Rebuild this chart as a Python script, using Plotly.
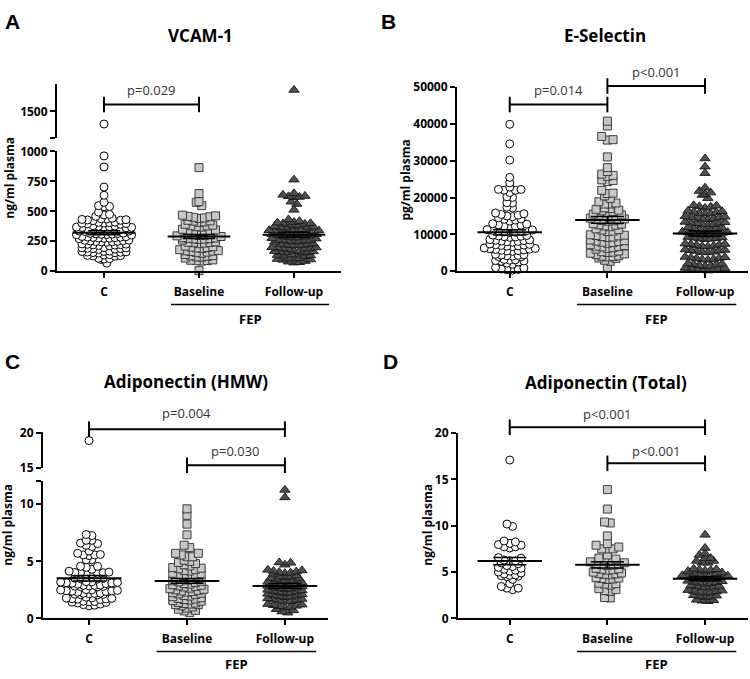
import numpy as np
import plotly.graph_objects as go

# ---------------- data ----------------
categories = ["C", "Baseline", "Follow-up"]

vcam_c = [1394, 962, 870, 702, 634, 575, 547, 540, 538, 493, 474, 470, 458,
          442, 436, 430, 428, 425, 432, 438, 422,
          410, 405, 398, 402, 395, 408, 400, 392,
          378, 372, 368, 365, 375, 370, 362, 380, 366,
          350, 345, 342, 338, 335, 340, 332, 348, 344, 336,
          318, 315, 312, 308, 305, 310, 302, 316, 306,
          290, 285, 282, 278, 275, 280, 272, 288, 276, 284,
          260, 255, 252, 248, 245, 250, 242, 258, 246,
          228, 225, 220, 218, 215, 222, 212, 226,
          198, 195, 190, 188, 185, 192, 182, 196,
          168, 165, 160, 158, 155, 162, 152, 166, 156,
          138, 132, 128, 125, 135, 130,
          108, 102, 98, 105, 68]
vcam_base = [864, 648, 580, 575, 547,
             468, 462, 455, 450, 445, 458, 440,
             425, 418, 412, 408, 420,
             392, 385, 378, 372, 380, 368,
             350, 345, 338, 332, 342, 330, 336,
             312, 305, 298, 300, 295, 308, 290,
             280, 275, 270, 265, 272, 268, 260, 278,
             245, 240, 235, 238, 230, 242,
             210, 205, 198, 195, 202, 190, 180,
             170, 165, 160, 168, 158, 172, 150, 140,
             130, 125, 120, 128, 118, 110,
             95, 90, 88, 92, 85, 5]
vcam_fu = [1679, 764, 650, 637, 628, 625, 620, 618, 580, 561, 512,
           432, 418,
           405, 395, 390, 400, 385, 398, 410,
           372, 368, 362, 375, 365, 378,
           345, 340, 336, 348, 332, 342, 350, 338,
           318, 312, 308, 315, 305, 320, 310, 302, 322,
           285, 280, 276, 288, 272, 282, 290,
           258, 252, 248, 255, 245, 260, 250, 262,
           228, 222, 218, 225, 215, 230, 220,
           198, 192, 188, 195, 185, 200, 190,
           168, 162, 158, 165, 155, 170, 160, 172,
           138, 132, 128, 135, 125, 140,
           108, 102, 98, 105, 95, 110,
           80, 75, 72, 85]

esel_c = [39870, 34570, 30160, 25480, 23990, 22830, 22220, 21960, 21350, 22200, 22000,
          20030, 20190, 18520, 18600, 17380, 17200,
          15420, 15800, 15200, 15600, 15000, 14800,
          14200, 13900, 14500, 13600, 14100,
          12800, 12500, 12200, 12600, 12000, 12900, 12300,
          11300, 11000, 10800, 11200, 10600, 10900, 11100, 10700, 10500,
          9800, 9500, 9300, 9600, 9200, 9700, 9400,
          8500, 8300, 8100, 8400, 8000, 8600, 8200, 7900,
          7300, 7100, 6900, 7200, 6800, 7000, 6700, 7400,
          6100, 5900, 5700, 6000, 5600, 5800, 5500, 6200, 5400, 6300,
          4500, 4300, 4100, 4400, 4000, 4600, 4200, 3900,
          3200, 3000, 2900, 3100, 2800,
          2700, 2200, 1900, 2500,
          900, 600, 400, 300, 500, 1000]
esel_base = [40740, 39420, 36590, 35710, 35600, 31030, 28120, 26370, 25750, 24600, 24300,
             24800, 26010, 27070, 21960, 21080, 21200, 20450, 18860, 18250, 18520, 18250, 19760,
             17000, 16600, 16200, 16800, 16400, 15900, 17200,
             15300, 15000, 14700, 15200, 14900, 15500,
             14200, 13900, 13700, 14100, 13600, 14400, 13800,
             12900, 12600, 12300, 12800, 12100, 12500,
             11500, 11200, 10900, 11300, 10800,
             9900, 9600, 9400, 9800, 9200, 9700, 9300,
             8500, 8200, 7900, 8300, 7800, 8100, 7600, 7200,
             7000, 6700, 6400, 6800, 6200, 6600, 6000,
             5500, 5200, 4900, 5300, 4700, 5100, 4500,
             4200, 3900, 3600, 4000, 3500, 4100,
             3000, 2700, 1060]
esel_fu = [30600, 28390, 26630, 20710, 21780, 20900, 21340, 22670, 19840,
           17800, 17500, 17200, 17600, 17900,
           16300, 16000, 15700, 16100, 15800, 16400, 15600,
           14800, 14500, 14200, 14600, 14100, 14700, 14300, 14900,
           13300, 13000, 12700, 13100, 12600, 13200, 12800, 13400,
           11800, 11600, 11300, 11700, 11200, 11900, 11400,
           10500, 10300, 10100, 10400, 10000, 10600, 10200, 10700, 9900,
           9200, 9000, 8800, 9100, 8700, 9300, 8900,
           7400, 7100, 6800, 7200, 6700, 7300, 6900, 7500,
           5800, 5500, 5200, 5600, 5100, 5700, 5300, 5900,
           3800, 3500, 3200, 3600, 3100, 3700, 3300, 3900,
           2100, 1800, 1500, 1900, 1400, 2000, 1600,
           700, 500, 300, 600, 200, 400, 800, 900]

hmw_c = [18.9, 7.26, 6.84, 6.55, 6.4, 6.6, 6.84, 7.35, 6.3,
         5.9, 5.56, 5.5, 5.56, 5.7, 5.13, 5.13, 5.6,
         4.56, 4.47, 4.56, 4.13, 4.3,
         4.0, 3.95, 3.9, 3.85, 4.05, 3.92, 3.88, 4.02, 3.97,
         3.6, 3.55, 3.5, 3.45, 3.58, 3.52, 3.62, 3.48,
         3.2, 3.15, 3.1, 3.05, 3.18, 3.12, 3.08, 3.22, 3.0,
         2.9, 2.85, 2.8, 2.75, 2.88, 2.82, 2.78, 2.92,
         2.5, 2.45, 2.4, 2.35, 2.48, 2.42, 2.38, 2.52, 2.3,
         2.2, 2.15, 2.1, 2.05, 2.18, 2.12, 2.08, 2.22,
         1.8, 1.75, 1.7, 1.65, 1.78, 1.72, 1.68, 1.85,
         1.5, 1.45, 1.4, 1.35, 1.48, 1.42,
         1.25, 1.2, 1.15, 1.1]
hmw_base = [9.6, 9.03, 8.26, 7.32, 6.41, 6.2, 5.56, 5.7, 5.7, 5.4, 5.4,
            5.0, 4.9, 4.7, 4.8, 4.6, 5.1,
            4.4, 4.3, 4.2, 4.35, 4.15, 4.45,
            3.9, 3.8, 3.7, 3.85, 3.75, 3.95, 3.65,
            3.4, 3.3, 3.2, 3.35, 3.25, 3.45, 3.15, 3.5,
            3.0, 2.9, 2.8, 2.95, 2.85, 3.05, 2.75,
            2.6, 2.5, 2.4, 2.55, 2.45, 2.65, 2.35, 2.3,
            2.2, 2.1, 2.0, 2.15, 1.95, 2.25, 1.9, 1.8,
            1.7, 1.6, 1.5, 1.65, 1.55, 1.75, 1.4,
            1.3, 1.2, 1.1, 1.25, 1.0, 1.35, 1.2, 0.9,
            0.8, 0.65, 0.5, 0.7]
hmw_fu = [11.26, 10.6, 4.9, 4.7, 4.87,
          4.2, 4.1, 4.0, 4.15, 3.95, 4.25, 4.05, 3.9,
          3.7, 3.6, 3.5, 3.65, 3.45, 3.75, 3.55,
          3.3, 3.2, 3.1, 3.25, 3.05, 3.35, 3.15, 3.0,
          2.9, 2.8, 2.7, 2.85, 2.65, 2.95, 2.75, 2.6,
          2.5, 2.4, 2.3, 2.45, 2.25, 2.55, 2.35,
          2.1, 2.0, 1.9, 2.05, 1.85, 2.15, 1.95, 2.2,
          1.7, 1.6, 1.5, 1.65, 1.45, 1.75, 1.55,
          1.2, 1.1, 1.0, 1.15, 0.95, 1.25, 1.05,
          0.8, 0.7, 0.6, 0.5]

tot_c = [17.09, 9.93, 10.18, 8.25, 7.96, 7.72, 7.6, 7.72, 7.9, 8.1, 8.35,
         6.49, 6.21, 6.21, 6.3, 6.56, 5.6, 5.9, 5.7, 6.0,
         5.5, 5.3, 5.1, 4.9, 4.7, 4.6, 4.5, 4.55, 4.65, 4.8, 5.0, 5.2, 5.4,
         4.2, 3.75, 3.26, 3.09, 3.26, 3.44]
tot_base = [13.9, 11.8, 10.3, 10.4, 8.9, 7.9, 7.5, 7.5, 7.5, 7.7, 8.07, 6.84,
            6.5, 6.3, 6.1, 6.2, 6.4,
            5.9, 5.8, 5.7, 5.85, 5.75, 6.0,
            5.4, 5.3, 5.2, 5.35, 5.25,
            4.9, 4.8, 4.7, 4.85, 4.75, 5.0,
            4.4, 4.3, 4.2, 4.35, 4.25,
            3.8, 3.7, 3.6, 3.75,
            3.2, 3.0, 2.9, 3.1,
            2.2, 2.25]
tot_fu = [9.02, 7.6, 6.84, 6.5, 6.2, 6.0, 6.0, 6.2, 6.5, 7.0,
          5.3, 5.2, 5.1, 5.25, 5.15, 5.35,
          4.9, 4.8, 4.7, 4.85, 4.75, 4.95, 4.65,
          4.5, 4.4, 4.3, 4.45, 4.35, 4.55, 4.25, 4.6,
          4.0, 3.9, 3.8, 3.95, 3.85, 4.05, 3.75,
          3.5, 3.4, 3.3, 3.45, 3.35, 3.55,
          3.0, 2.9, 2.8, 2.95, 2.85, 3.05, 2.75,
          2.5, 2.4, 2.3, 2.45, 2.35,
          2.0, 1.9, 1.85, 1.95]

titles = ["VCAM-1", "E-Selectin", "Adiponectin (HMW)", "Adiponectin (Total)"]
ytitles = ["ng/ml plasma", "pg/ml plasma", "ng/ml plasma", "ng/ml plasma"]

# ---------------- helpers ----------------
W, H = 750, 679


def PX(p):
    return p / W


def PY(p):
    return 1 - p / H


def swarm(vals, bin_size, step):
    vals = sorted(vals)
    rows, cur, start = [], [], None
    for v in vals:
        if start is None or v - start > bin_size:
            if cur:
                rows.append(cur)
            cur, start = [v], v
        else:
            cur.append(v)
    if cur:
        rows.append(cur)
    xs, ys = [], []
    for r in rows:
        k = len(r)
        for i, v in enumerate(r):
            if k % 2 == 1:
                if i == 0:
                    off = 0
                else:
                    j = (i + 1) // 2
                    off = j if i % 2 == 1 else -j
            else:
                j = i // 2
                off = (j + 0.5) if i % 2 == 0 else -(j + 0.5)
            xs.append(off * step)
            ys.append(v)
    return xs, ys


STYLES = [
    dict(symbol="circle", size=8, color="white", line=dict(color="black", width=1)),
    dict(symbol="square", size=8, color="#c8c8c8", line=dict(color="#3c3c3c", width=1)),
    dict(symbol="triangle-up", size=9, color="#505050", line=dict(color="#1e1e1e", width=1)),
]

fig = go.Figure()


def add_group(vals, ci, xa, ya_low, bin_size, step=0.058, split=None, ya_up=None):
    low = [v for v in vals if split is None or v <= split]
    up = [v for v in vals if split is not None and v > split]
    xs, ys = swarm(low, bin_size, step)
    fig.add_trace(go.Scatter(x=[ci + x for x in xs], y=ys, mode="markers",
                             marker=STYLES[ci], xaxis=xa, yaxis=ya_low,
                             cliponaxis=False, hoverinfo="y"))
    if up:
        xs2, ys2 = swarm(up, bin_size, step)
        fig.add_trace(go.Scatter(x=[ci + x for x in xs2], y=ys2, mode="markers",
                                 marker=STYLES[ci], xaxis=xa, yaxis=ya_up,
                                 cliponaxis=False, hoverinfo="y"))


def add_mean(vals, ci, xa, ya):
    m = float(np.mean(vals))
    s = float(np.std(vals, ddof=1) / np.sqrt(len(vals)))
    fig.add_trace(go.Scatter(x=[ci - 0.33, ci + 0.33], y=[m, m], mode="lines",
                             line=dict(color="black", width=2), xaxis=xa, yaxis=ya,
                             hoverinfo="skip", cliponaxis=False))
    fig.add_trace(go.Scatter(x=[ci - 0.17, ci + 0.17, None, ci, ci, None, ci - 0.17, ci + 0.17],
                             y=[m + s, m + s, None, m - s, m + s, None, m - s, m - s],
                             mode="lines", line=dict(color="black", width=1.5),
                             xaxis=xa, yaxis=ya, hoverinfo="skip", cliponaxis=False))


panels = [
    dict(data=[vcam_c, vcam_base, vcam_fu], xa="x", ya="y", yu="y2", split=1000, bin=30),
    dict(data=[esel_c, esel_base, esel_fu], xa="x2", ya="y3", yu=None, split=None, bin=1000),
    dict(data=[hmw_c, hmw_base, hmw_fu], xa="x3", ya="y4", yu="y5", split=12.05, bin=0.34),
    dict(data=[tot_c, tot_base, tot_fu], xa="x4", ya="y6", yu=None, split=None, bin=0.42),
]
for p in panels:
    for ci, vals in enumerate(p["data"]):
        add_group(vals, ci, p["xa"], p["ya"], p["bin"], split=p["split"], ya_up=p["yu"])
for p in panels:
    for ci, vals in enumerate(p["data"]):
        add_mean(vals, ci, p["xa"], p["ya"])

# ---------------- axes ----------------
tickfont = dict(family="Open Sans", size=12, color="black", weight="bold")
xtickfont = dict(family="Open Sans", size=12, color="black", weight="bold")
common = dict(showline=True, linecolor="black", linewidth=2, ticks="outside", ticklen=5,
              tickwidth=2, tickcolor="black", showgrid=False, zeroline=False,
              tickfont=tickfont, fixedrange=True)
xcommon = dict(common, tickvals=[0, 1, 2], ticktext=categories, ticklabelstandoff=3,
               tickfont=xtickfont)

fig.update_layout(
    width=W, height=H, margin=dict(l=0, r=0, t=0, b=0), autosize=False,
    paper_bgcolor="white", plot_bgcolor="white", showlegend=False,
    xaxis=dict(xcommon, domain=[PX(57), PX(341)], range=[-0.495, 2.495], anchor="y"),
    yaxis=dict(common, domain=[PY(269), PY(146)], range=[0, 1000], anchor="x",
               tickvals=[0, 250, 500, 750, 1000]),
    yaxis2=dict(common, domain=[PY(132), PY(77)], range=[1280, 1728], anchor="x",
                tickvals=[1280, 1500], ticktext=["", "1500"]),
    xaxis2=dict(xcommon, domain=[PX(457), PX(748)], range=[-0.54, 2.44], anchor="y3"),
    yaxis3=dict(common, domain=[PY(269), PY(80)], range=[0, 50000], anchor="x2",
                tickvals=[0, 10000, 20000, 30000, 40000, 50000], tickformat="d"),
    xaxis3=dict(xcommon, domain=[PX(43), PX(328)], range=[-0.47, 2.44], anchor="y4"),
    yaxis4=dict(common, domain=[PY(625), PY(484)], range=[0, 12.05], anchor="x3",
                tickvals=[0, 5, 10, 12.05], ticktext=["0", "5", "10", ""]),
    yaxis5=dict(common, domain=[PY(471), PY(434)], range=[15, 20.1], anchor="x3",
                tickvals=[15, 20]),
    xaxis4=dict(xcommon, domain=[PX(458), PX(748)], range=[-0.53, 2.44], anchor="y6"),
    yaxis6=dict(common, domain=[PY(625), PY(435)], range=[0, 20], anchor="x4",
                tickvals=[0, 5, 10, 15, 20]),
)

# ---------------- annotations / shapes ----------------
ann = []
shapes = []
letter_font = dict(family="Liberation Sans", size=21, color="black", weight="bold")
title_font = dict(family="Open Sans", size=17, color="black", weight="bold")
ytitle_font = dict(family="Open Sans", size=12, color="black", weight="bold")
p_font = dict(family="Open Sans", size=13, color="#333333")
fep_font = dict(family="Open Sans", size=13, color="black", weight="bold")

for letter, x, y in [("A", 12, 13), ("B", 388, 13), ("C", 12, 362), ("D", 390, 362)]:
    ann.append(dict(text=letter, x=PX(x), y=PY(y), xref="paper", yref="paper",
                    showarrow=False, font=letter_font, xanchor="center", yanchor="middle"))
for t, x, y in zip(titles, [200, 605, 186, 606], [27, 27, 382, 383]):
    ann.append(dict(text=t, x=PX(x), y=PY(y), xref="paper", yref="paper",
                    showarrow=False, font=title_font, xanchor="center", yanchor="middle"))
for t, x, y in zip(ytitles, [10, 406, 8, 428], [173, 176, 529, 529]):
    ann.append(dict(text=t, x=PX(x), y=PY(y), xref="paper", yref="paper", textangle=-90,
                    showarrow=False, font=ytitle_font, xanchor="center", yanchor="middle"))

# FEP group lines
for xa, x0, x1, xc, ly, ty in [("x", 0.705, 2.37, 1.54, 303, 318),
                               ("x2", 0.69, 2.32, 1.50, 303, 318),
                               ("x3", 0.69, 2.32, 1.51, 659, 672),
                               ("x4", 0.69, 2.32, 1.50, 659, 672)]:
    shapes.append(dict(type="line", xref=xa, yref="paper", x0=x0, x1=x1, y0=PY(ly), y1=PY(ly),
                       line=dict(color="black", width=1.5)))
    ann.append(dict(text="FEP", x=xc, y=PY(ty), xref=xa, yref="paper", showarrow=False,
                    font=fep_font, xanchor="center", yanchor="middle"))

# significance brackets
brackets = [
    ("x", 0, 1, 98, 83, "p=0.029"),
    ("x2", 0, 1, 98, 83, "p=0.014"),
    ("x2", 1, 2, 79, 65, "p<0.001"),
    ("x3", 0, 2, 431, 414, "p=0.004"),
    ("x3", 1, 2, 468, 453, "p=0.030"),
    ("x4", 0, 2, 429, 415, "p<0.001"),
    ("x4", 1, 2, 466, 453, "p<0.001"),
]
for xa, a, b, by, ty, txt in brackets:
    lw = dict(color="black", width=2)
    shapes.append(dict(type="line", xref=xa, yref="paper", x0=a, x1=b, y0=PY(by), y1=PY(by), line=lw))
    for xx in (a, b):
        shapes.append(dict(type="line", xref=xa, yref="paper", x0=xx, x1=xx,
                           y0=PY(by - 8), y1=PY(by + 8), line=lw))
    ann.append(dict(text=txt, x=(a + b) / 2, y=PY(ty), xref=xa, yref="paper", showarrow=False,
                    font=p_font, xanchor="center", yanchor="middle"))

fig.update_layout(annotations=ann, shapes=shapes)

fig.write_html("out.html", config={"displayModeBar": False},
               post_script="document.body.style.margin='0';document.body.style.overflow='hidden';")
